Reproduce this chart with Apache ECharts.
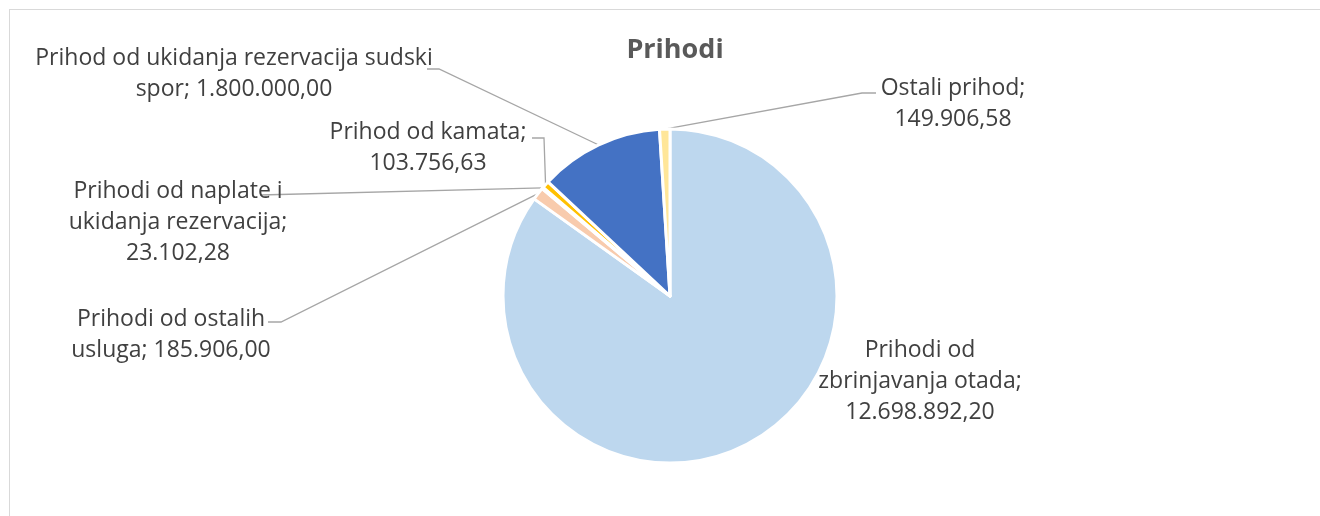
<!DOCTYPE html>
<html>
<head>
<meta charset="utf-8">
<script src="https://cdn.jsdelivr.net/npm/echarts@6/dist/echarts.min.js"></script>
<style>
  html, body { margin: 0; padding: 0; background: #fff; }
  #chart { width: 1320px; height: 516px; }
  #frame { position: absolute; left: 9px; top: 9px; right: -5px; bottom: -5px;
           border-left: 1px solid #d9d9d9; border-top: 1px solid #d9d9d9; pointer-events: none; }
</style>
</head>
<body>
<div id="chart"></div>
<div id="frame"></div>
<script>
// podaci (redoslijed kao na grafikonu, od vrha u smjeru kazaljke)
const categories = [
  'Prihodi od zbrinjavanja otada',
  'Prihodi od ostalih usluga',
  'Prihodi od naplate i ukidanja rezervacija',
  'Prihod od kamata',
  'Prihod od ukidanja rezervacija sudski spor',
  'Ostali prihod'
]
const values = [12698892.20, 185906.00, 23102.28, 103756.63, 1800000.00, 149906.58]
const colors = ['#BDD7EE', '#F8CBAD', '#DBDBDB', '#FFC000', '#4472C4', '#FFE699']

// gdje se lomi tekst labele (indeks riječi prije koje ide novi red)
const breaks = [[2, 4], [3], [4, 6], [3], [5], [2]]
// položaj labela (sredina bloka) i lom linije
const labelPos = [
  { x: 920, y: 381 },
  { x: 171, y: 335, line: [[268, 322], [281, 322]] },
  { x: 178, y: 222, line: [[260, 195]] },
  { x: 428, y: 148, line: [[532, 138], [544, 138]] },
  { x: 234, y: 74, line: [[427, 69], [439, 69]] },
  { x: 953, y: 104, line: [[876, 93], [862, 93]] }
]

const fmt = (v) => {
  let [i, d] = v.toFixed(2).split('.')
  i = i.replace(/\B(?=(\d{3})+(?!\d))/g, '.')
  return i + ',' + d
}

const myChart = echarts.init(document.getElementById('chart'))

const option = {
  title: {
    text: 'Prihodi',
    left: 670,
    top: 32,
    textAlign: 'center',
    textStyle: { fontFamily: 'Open Sans', fontSize: 27, fontWeight: 'bold', color: '#595959' }
  },
  series: [{
    type: 'pie',
    center: [670, 296],
    radius: 167,
    startAngle: 90,
    clockwise: true,
    avoidLabelOverlap: false,
    animation: false,
    itemStyle: { borderColor: '#fff', borderWidth: 3 },
    label: {
      show: true,
      fontFamily: 'Open Sans',
      fontSize: 23,
      lineHeight: 31,
      color: '#404040',
      align: 'center',
      formatter: (p) => {
        const words = (p.name + '; ' + fmt(p.value)).split(' ')
        const br = breaks[p.dataIndex]
        return words.map((w, k) => (br.includes(k) ? '\n' : (k ? ' ' : '')) + w).join('')
      }
    },
    labelLine: { show: true, lineStyle: { color: '#a6a6a6', width: 1.3 } },
    labelLayout: (params) => {
      const pos = labelPos[params.dataIndex]
      const out = { x: pos.x, y: pos.y, align: 'center', verticalAlign: 'middle' }
      if (pos.line && params.labelLinePoints) {
        out.labelLinePoints = [params.labelLinePoints[0]].concat(pos.line.slice().reverse())
      }
      return out
    },
    data: categories.map((name, i) => ({
      name: name,
      value: values[i],
      itemStyle: { color: colors[i] },
      labelLine: { show: i !== 0 }
    }))
  }]
}

myChart.setOption(option)
</script>
</body>
</html>
